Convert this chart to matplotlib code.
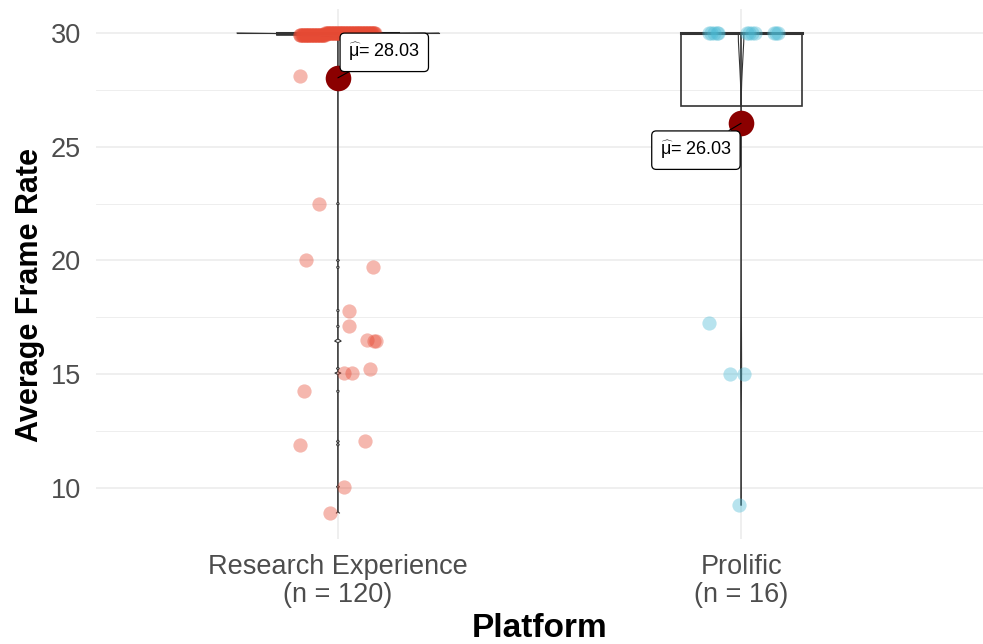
import numpy as np
import matplotlib
matplotlib.use("Agg")
import matplotlib.pyplot as plt
from matplotlib.patches import Rectangle

plt.rcParams['font.family'] = ['Liberation Sans', 'DejaVu Sans']
plt.rcParams['mathtext.fontset'] = 'custom'
plt.rcParams['mathtext.rm'] = 'Liberation Sans'
plt.rcParams['mathtext.it'] = 'Liberation Sans'

# ---------------- data ----------------
categories = ["Research Experience", "Prolific"]
tick_labels = ["Research Experience\n(n = 120)", "Prolific\n(n = 16)"]

# Research Experience: values below 30
re_low_values = [28.1, 22.5, 20.0, 19.7, 17.8, 17.1, 16.5, 16.45, 16.45,
                 15.05, 15.05, 15.25, 14.25, 12.05, 11.9, 10.05, 8.9]
re_low_jitter = [-0.094, -0.047, -0.080, 0.088, 0.027, 0.027, 0.071, 0.090, 0.094,
                 0.015, 0.036, 0.079, -0.085, 0.067, -0.094, 0.014, -0.020]
re_n_29_9 = 35
re_n_30 = 68

# Prolific
pr_low_values = [17.25, 15.0, 15.0, 9.25]
pr_low_jitter = [-0.080, -0.027, 0.007, -0.006]
pr_n_30 = 12
pr_top_jitter = [-0.080, -0.075, -0.068, -0.060, -0.057,
                 0.015, 0.020, 0.028, 0.035, 0.082, 0.087, 0.092]

# ---------------- assemble ----------------
re_values = np.array(re_low_values + [29.9] * re_n_29_9 + [30.0] * re_n_30)
re_top_n = re_n_29_9 + re_n_30
re_jitter = np.array(re_low_jitter + list(np.linspace(-0.095, 0.092, re_top_n)))
pr_values = np.array(pr_low_values + [30.0] * pr_n_30)
pr_jitter = np.array(pr_low_jitter + pr_top_jitter)

groups = [re_values, pr_values]
jitters = [re_jitter, pr_jitter]
colors = ["#E64B35", "#4DBBD5"]


def nrd0(v):
    sd = np.std(v, ddof=1)
    iqr = np.quantile(v, 0.75) - np.quantile(v, 0.25)
    lo = min(sd, iqr / 1.34) if iqr > 0 else sd
    return 0.9 * lo * len(v) ** (-0.2)


def kde(v, grid):
    bw = nrd0(v)
    z = (grid[:, None] - v[None, :]) / bw
    return np.exp(-0.5 * z ** 2).sum(axis=1) / (len(v) * bw * np.sqrt(2 * np.pi))


fig = plt.figure(figsize=(9.83, 6.44), dpi=100)
ax = fig.add_axes([96 / 983, 105 / 644, 887 / 983, 530 / 644])

# violins (scale = area)
dens_list = []
for v in groups:
    grid = np.linspace(v.min(), v.max(), 512)
    dens_list.append((grid, kde(v, grid)))
maxd = max(d.max() for _, d in dens_list)
for i, (grid, d) in enumerate(dens_list):
    pos = i + 1
    hw = 0.25 * d / maxd
    ax.fill_betweenx(grid, pos - hw, pos + hw, facecolor="white", alpha=0.2,
                     edgecolor="none", zorder=2)
    ax.plot(pos - hw, grid, color="#333333", lw=0.8, zorder=2)
    ax.plot(pos + hw, grid, color="#333333", lw=0.8, zorder=2)
    ax.plot([pos - hw[-1], pos + hw[-1]], [grid[-1], grid[-1]], color="#333333", lw=0.8, zorder=2)

# boxes
for i, v in enumerate(groups):
    pos = i + 1
    q1, med, q3 = np.quantile(v, 0.25), np.quantile(v, 0.5), np.quantile(v, 0.75)
    iqr = q3 - q1
    lo_w = v[v >= q1 - 1.5 * iqr].min()
    hi_w = v[v <= q3 + 1.5 * iqr].max()
    ax.add_patch(Rectangle((pos - 0.15, q1), 0.3, q3 - q1, facecolor="none",
                           edgecolor="#333333", lw=1.2, zorder=3))
    ax.plot([pos - 0.15, pos + 0.15], [med, med], color="#333333", lw=2.2, zorder=3)
    ax.plot([pos, pos], [q3, hi_w], color="#333333", lw=1.2, zorder=3)
    ax.plot([pos, pos], [lo_w, q1], color="#333333", lw=1.2, zorder=3)

# jittered points
for i, (v, j) in enumerate(zip(groups, jitters)):
    ax.scatter(i + 1 + j, v, s=105, color=colors[i], alpha=0.4, linewidths=0, zorder=4)

# means
label_offsets = [(0.115, 29.15), (-0.112, 24.85)]
for i, v in enumerate(groups):
    pos = i + 1
    m = v.mean()
    ax.scatter([pos], [m], s=340, color="#8B0000", zorder=5, linewidths=0)
    lx = pos + label_offsets[i][0]
    ly = label_offsets[i][1]
    ax.annotate(r"$\widehat{\mu}$= " + f"{m:.2f}", xy=(pos, m), xytext=(lx, ly),
                ha="center", va="center", fontsize=13, color="black", zorder=6,
                bbox=dict(boxstyle="round,pad=0.45,rounding_size=0.25", fc="white",
                          ec="black", lw=0.9),
                arrowprops=dict(arrowstyle="-", color="black", lw=0.8,
                                shrinkA=0, shrinkB=0))

# axes styling
ax.set_xlim(0.4, 2.6)
ax.set_ylim(7.758, 31.055)
ax.set_xticks([1, 2])
ax.set_xticklabels(tick_labels, fontsize=19.5, color="#4D4D4D", linespacing=1.08)
ax.set_yticks([10, 15, 20, 25, 30])
ax.set_yticklabels(["10", "15", "20", "25", "30"], fontsize=19.5, color="#4D4D4D")
ax.set_yticks([12.5, 17.5, 22.5, 27.5], minor=True)
ax.tick_params(axis="both", which="both", length=0)
ax.tick_params(axis="y", pad=11)
ax.tick_params(axis="x", pad=11)
ax.grid(True, which="major", color="#EBEBEB", lw=1.1, zorder=0)
ax.grid(True, which="minor", axis="y", color="#EBEBEB", lw=0.6, zorder=0)
ax.set_axisbelow(True)
for s in ax.spines.values():
    s.set_visible(False)
ax.set_xlabel("Platform", fontsize=24, fontweight="bold", labelpad=4)
ax.set_ylabel("Average Frame Rate", fontsize=22, fontweight="bold")
ax.yaxis.set_label_coords(-0.057, 0.46)

fig.savefig("out.png", dpi=100)
